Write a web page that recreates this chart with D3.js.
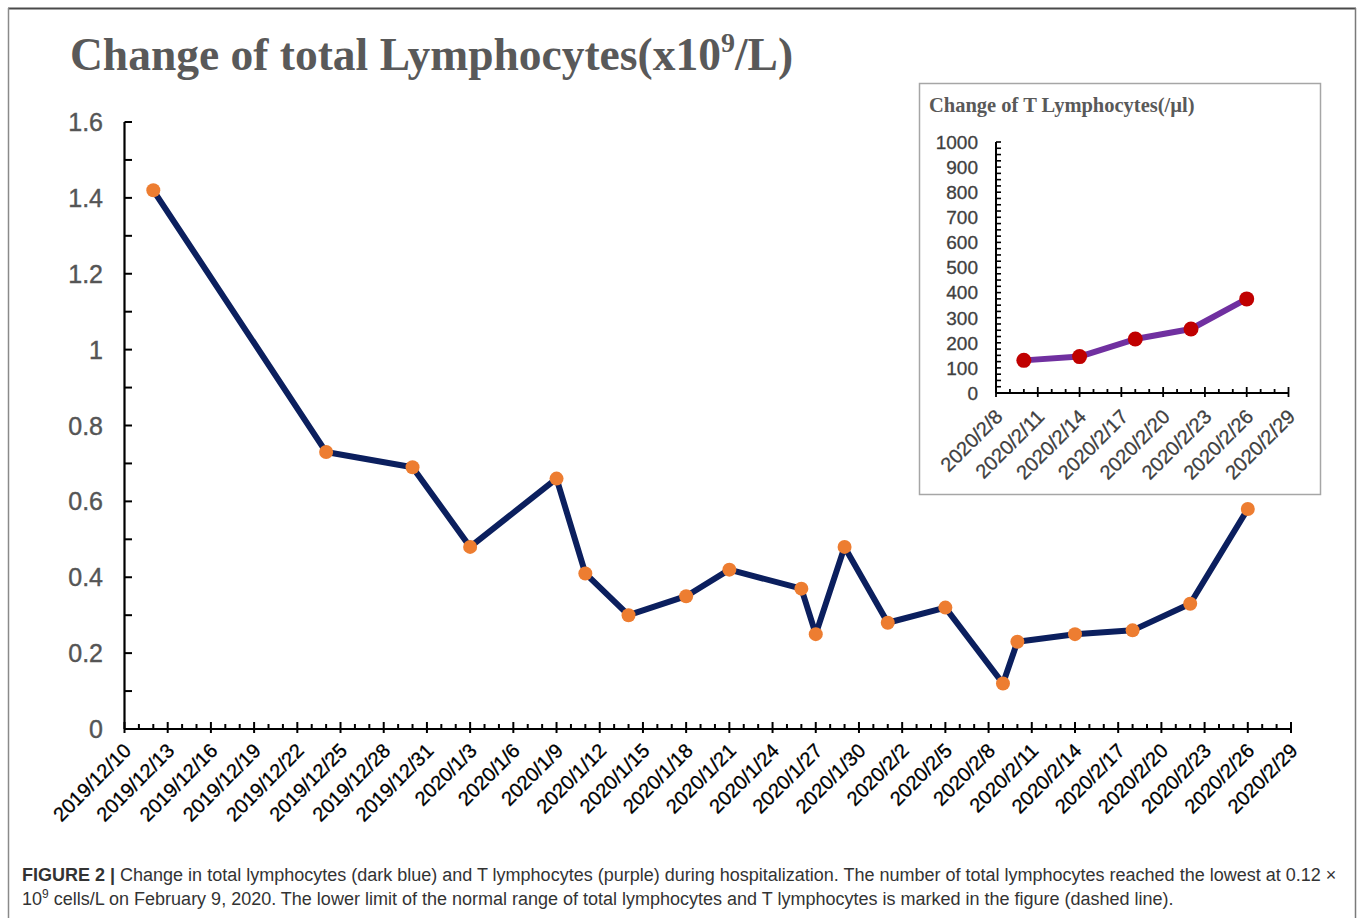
<!DOCTYPE html>
<html><head><meta charset="utf-8">
<script src="https://cdn.jsdelivr.net/npm/d3@7"></script>
<style>body{margin:0;background:#fff}svg{display:block}</style>
</head><body><svg id="chart" width="1358" height="918"></svg>
<script>
// ---- data ----
const mainDates = ["2019-12-12","2019-12-24","2019-12-30","2020-01-03","2020-01-09","2020-01-11","2020-01-14","2020-01-18","2020-01-21","2020-01-26","2020-01-27","2020-01-29","2020-02-01","2020-02-05","2020-02-09","2020-02-10","2020-02-14","2020-02-18","2020-02-22","2020-02-26"];
const totalLymphocytes = [1.42,0.73,0.69,0.48,0.66,0.41,0.30,0.35,0.42,0.37,0.25,0.48,0.28,0.32,0.12,0.23,0.25,0.26,0.33,0.58];
const insetDates = ["2020-02-10","2020-02-14","2020-02-18","2020-02-22","2020-02-26"];
const tLymphocytes = [130,145,215,255,375];
const mainDomain = ["2019-12-10","2020-02-29"];
const insetDomain = ["2020-02-08","2020-02-29"];
const mainYTicks = [0,0.2,0.4,0.6,0.8,1,1.2,1.4,1.6];
const insetYTicks = [0,100,200,300,400,500,600,700,800,900,1000];
const titleText = "Change of total Lymphocytes(x10";
const insetTitle = "Change of T Lymphocytes(/\u00b5l)";
const captionLine1 = "Change in total lymphocytes (dark blue) and T lymphocytes (purple) during hospitalization. The number of total lymphocytes reached the lowest at 0.12 \u00d7";
const captionLine2 = " cells/L on February 9, 2020. The lower limit of the normal range of total lymphocytes and T lymphocytes is marked in the figure (dashed line).";

const parse = d3.utcParse("%Y-%m-%d");
const fmt = d3.utcFormat("%Y/%-m/%-d");
const svg = d3.select("#chart");

// frame
svg.append("line").attr("x1",8).attr("x2",1356).attr("y1",8.5).attr("y2",8.5).attr("stroke","#4a4a4a").attr("stroke-width",2);
svg.append("line").attr("x1",8.5).attr("x2",8.5).attr("y1",8).attr("y2",918).attr("stroke","#8a8a8a").attr("stroke-width",1.5);
svg.append("line").attr("x1",1355.5).attr("x2",1355.5).attr("y1",8).attr("y2",918).attr("stroke","#7a7a7a").attr("stroke-width",1.5);

// title
const title = svg.append("text").attr("x",70).attr("y",70)
  .attr("font-family","'Liberation Serif','Times New Roman',serif").attr("font-weight","bold")
  .attr("font-size",45.5).attr("fill","#595959");
title.append("tspan").text(titleText);
title.append("tspan").attr("font-size",28).attr("dy",-18).text("9");
title.append("tspan").attr("dy",18).text("/L)");

// ---- main chart ----
const x = d3.scaleUtc().domain(mainDomain.map(parse)).range([124.5,1291]);
const y = d3.scaleLinear().domain([0,1.6]).range([729,122]);
const g = svg.append("g");

// y axis
g.append("line").attr("x1",124.5).attr("x2",124.5).attr("y1",y(1.6)).attr("y2",y(0)).attr("stroke","#000").attr("stroke-width",2.2);
d3.range(0,17).forEach(i=>{
  const v=i/10;
  g.append("line").attr("x1",124.5).attr("x2",132).attr("y1",y(v)).attr("y2",y(v)).attr("stroke","#000").attr("stroke-width",2);
});
g.selectAll(".ylab").data(mainYTicks).join("text")
  .attr("x",103).attr("y",d=>y(d)).attr("dy","0.36em").attr("text-anchor","end")
  .attr("font-family","'Liberation Sans',Arial,sans-serif").attr("font-size",25).attr("fill","#555")
  .attr("stroke","#555").attr("stroke-width",0.4)
  .text(d=>d3.format("~g")(d));

// x axis
g.append("line").attr("x1",124.5).attr("x2",1291).attr("y1",y(0)).attr("y2",y(0)).attr("stroke","#000").attr("stroke-width",2.2);
const mainDays = d3.utcDay.range(parse(mainDomain[0]), d3.utcDay.offset(parse(mainDomain[1]),1));
mainDays.forEach((d,i)=>{
  const major = i%3===0;
  g.append("line").attr("x1",x(d)).attr("x2",x(d)).attr("y1",y(0)-(major?7:5)).attr("y2",y(0)+(major?4:0)).attr("stroke","#000").attr("stroke-width",2);
});
g.selectAll(".xlab").data(mainDays.filter((d,i)=>i%3===0)).join("text")
  .attr("transform",d=>`translate(${x(d)-2},${y(0)+13}) rotate(-45)`)
  .attr("text-anchor","end").attr("dy","0.7em")
  .attr("font-family","'Liberation Sans',Arial,sans-serif").attr("font-size",20).attr("fill","#000")
  .attr("stroke","#000").attr("stroke-width",0.3)
  .text(d=>fmt(d));

const mainData = mainDates.map((d,i)=>({d:parse(d),v:totalLymphocytes[i]}));
g.append("path").datum(mainData)
  .attr("d",d3.line().x(p=>x(p.d)).y(p=>y(p.v)))
  .attr("fill","none").attr("stroke","#0b1f5e").attr("stroke-width",6).attr("stroke-linejoin","round");
g.selectAll(".pt").data(mainData).join("circle")
  .attr("cx",p=>x(p.d)).attr("cy",p=>y(p.v)).attr("r",7).attr("fill","#ed7d31");

// ---- inset ----
const ins = svg.append("g");
ins.append("rect").attr("x",919.5).attr("y",83.5).attr("width",401).attr("height",411)
  .attr("fill","#fff").attr("stroke","#a6a6a6").attr("stroke-width",1.5);
ins.append("text").attr("x",929).attr("y",112).text(insetTitle)
  .attr("font-family","'Liberation Serif','Times New Roman',serif").attr("font-weight","bold")
  .attr("font-size",20.5).attr("fill","#595959");
const xi = d3.scaleUtc().domain(insetDomain.map(parse)).range([996,1288.5]);
const yi = d3.scaleLinear().domain([0,1000]).range([393,142]);
ins.append("line").attr("x1",996).attr("x2",996).attr("y1",yi(1000)).attr("y2",yi(0)).attr("stroke","#000").attr("stroke-width",2);
d3.range(0,1001,25).forEach(v=>{
  ins.append("line").attr("x1",996).attr("x2",1001).attr("y1",yi(v)).attr("y2",yi(v)).attr("stroke","#000").attr("stroke-width",1.6);
});
ins.selectAll(".yl").data(insetYTicks).join("text")
  .attr("x",978).attr("y",d=>yi(d)).attr("dy","0.36em").attr("text-anchor","end")
  .attr("font-family","'Liberation Sans',Arial,sans-serif").attr("font-size",19).attr("fill","#404040")
  .attr("stroke","#404040").attr("stroke-width",0.3)
  .text(d=>d);
ins.append("line").attr("x1",996).attr("x2",1288.5).attr("y1",yi(0)).attr("y2",yi(0)).attr("stroke","#000").attr("stroke-width",2);
const insetDays = d3.utcDay.range(parse(insetDomain[0]), d3.utcDay.offset(parse(insetDomain[1]),1));
insetDays.forEach((d,i)=>{
  const major = i%3===0;
  ins.append("line").attr("x1",xi(d)).attr("x2",xi(d)).attr("y1",yi(0)-(major?6:4)).attr("y2",yi(0)+(major?4:0)).attr("stroke","#000").attr("stroke-width",1.8);
});
ins.selectAll(".xl").data(insetDays.filter((d,i)=>i%3===0)).join("text")
  .attr("transform",d=>`translate(${xi(d)-2},${yi(0)+15}) rotate(-45)`)
  .attr("text-anchor","end").attr("dy","0.7em")
  .attr("font-family","'Liberation Sans',Arial,sans-serif").attr("font-size",20).attr("fill","#404040")
  .attr("stroke","#404040").attr("stroke-width",0.3)
  .text(d=>fmt(d));
const insetData = insetDates.map((d,i)=>({d:parse(d),v:tLymphocytes[i]}));
ins.append("path").datum(insetData)
  .attr("d",d3.line().x(p=>xi(p.d)).y(p=>yi(p.v)))
  .attr("fill","none").attr("stroke","#7030a0").attr("stroke-width",6).attr("stroke-linejoin","round");
ins.selectAll(".ipt").data(insetData).join("circle")
  .attr("cx",p=>xi(p.d)).attr("cy",p=>yi(p.v)).attr("r",7.5).attr("fill","#c00000");

// ---- caption ----
const cap1 = svg.append("text").attr("x",22).attr("y",881)
  .attr("font-family","'Liberation Sans',Arial,sans-serif").attr("font-size",18).attr("fill","#333");
cap1.append("tspan").attr("font-weight","bold").text("FIGURE 2 | ");
cap1.append("tspan").text(captionLine1);
const cap2 = svg.append("text").attr("x",22).attr("y",905)
  .attr("font-family","'Liberation Sans',Arial,sans-serif").attr("font-size",18).attr("fill","#333");
cap2.append("tspan").text("10");
cap2.append("tspan").attr("font-size",12).attr("dy",-7).text("9");
cap2.append("tspan").attr("dy",7).text(captionLine2);
</script></body></html>
